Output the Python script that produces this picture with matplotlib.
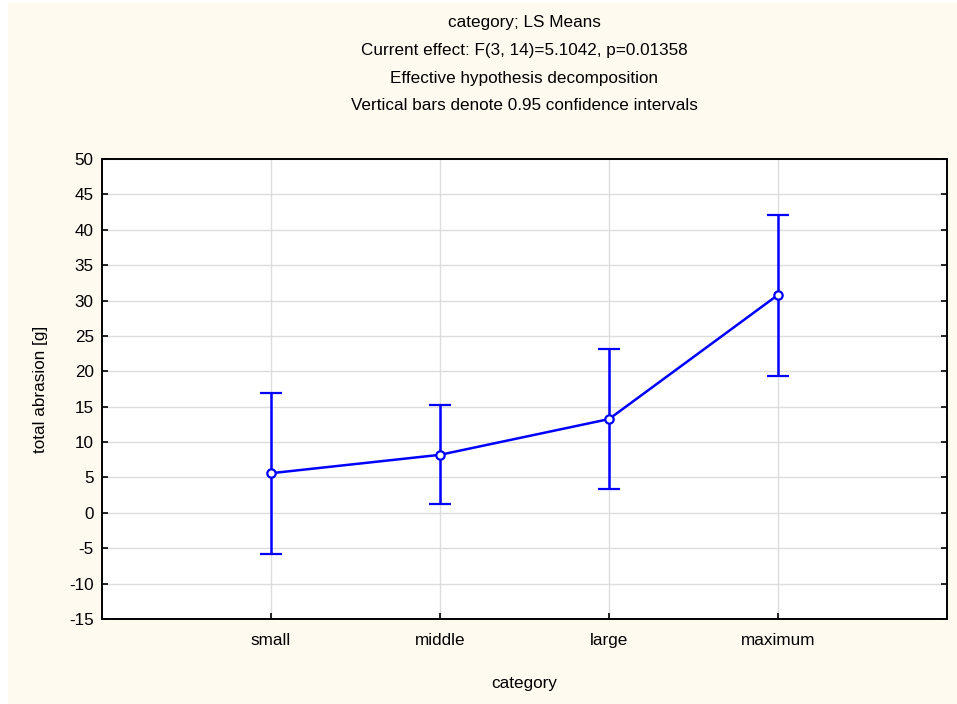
import numpy as np
import matplotlib
matplotlib.use("Agg")
import matplotlib.pyplot as plt
from matplotlib.patches import Rectangle

plt.rcParams['font.family'] = ['Liberation Sans', 'DejaVu Sans']
plt.rcParams['axes.unicode_minus'] = False

# LS means of total abrasion per category with 0.95 CI bounds
categories = ['small', 'middle', 'large', 'maximum']
means = [5.6, 8.2, 13.25, 30.8]
ci_low = [-5.75, 1.2, 3.4, 19.4]
ci_high = [16.9, 15.2, 23.1, 42.1]

titles = ['category; LS Means',
          'Current effect: F(3, 14)=5.1042, p=0.01358',
          'Effective hypothesis decomposition',
          'Vertical bars denote 0.95 confidence intervals']

fs = 12.3
W, H = 957, 704
fig = plt.figure(figsize=(W / 100, H / 100), dpi=100, facecolor='white')
fig.patches.append(Rectangle((8 / W, 0), 1 - 8 / W, 1 - 3 / H, transform=fig.transFigure,
                             facecolor='#fffaf0', edgecolor='none', zorder=-10))

ax = fig.add_axes([102 / W, 1 - 619 / H, (947 - 102) / W, (619 - 159) / H])
ax.set_facecolor('white')

x = np.arange(1, len(categories) + 1)
m = np.array(means)
yerr = [m - np.array(ci_low), np.array(ci_high) - m]
ax.errorbar(x, m, yerr=yerr, color='#0000ff', lw=1.8, elinewidth=1.8, capsize=8,
            capthick=1.8, marker='o', ms=6, mfc='white', mec='#0000ff', mew=1.6, zorder=3)

ax.set_xlim(0, 5)
ax.set_ylim(-15, 50)
ax.set_yticks(np.arange(-15, 51, 5))
ax.set_xticks(x)
ax.set_xticklabels(categories)
ax.grid(True, color='#dddddd', lw=1)
ax.set_axisbelow(True)
for s in ax.spines.values():
    s.set_linewidth(1.4)
    s.set_color('black')
ax.tick_params(direction='in', length=4, width=1.2, labelsize=fs, right=True, pad=6)
ax.tick_params(axis='x', pad=10)

ax.set_xlabel('category', fontsize=fs, labelpad=20)
ax.set_ylabel('total abrasion [g]', fontsize=fs, labelpad=15)

cx = (102 + 947) / 2 / W
for i, t in enumerate(titles):
    fig.text(cx, 1 - (22 + 28 * i) / H, t, ha='center', va='center', fontsize=fs)

fig.savefig('out.png', dpi=100, facecolor=fig.get_facecolor())
